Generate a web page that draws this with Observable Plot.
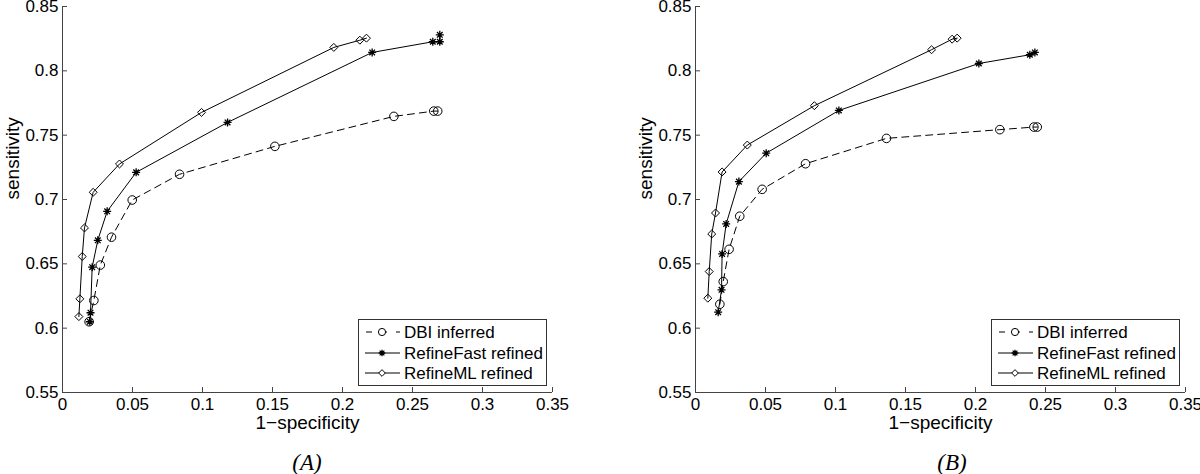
<!DOCTYPE html>
<html><head><meta charset="utf-8">
<script src="https://cdn.jsdelivr.net/npm/d3@7"></script>
<script src="https://cdn.jsdelivr.net/npm/@observablehq/plot@0.6"></script>
<style>
body{margin:0;background:#fff;}
#wrap{position:relative;width:1200px;height:474px;overflow:hidden;font-family:"Liberation Sans",Arial,sans-serif;background:#fff;}
.panel{position:absolute;top:0;width:600px;height:474px;}
.panel svg.plotsvg{position:absolute;left:0;top:0;}
.cap{position:absolute;top:449px;font-family:"Liberation Serif","Times New Roman",serif;font-style:italic;font-size:23px;line-height:28px;transform:translateX(-50%);color:#000;}
.legend{position:absolute;top:319px;}
</style></head><body><div id="wrap"></div>
<script>
// ---- axes ----
const xTicks = [0, 0.05, 0.1, 0.15, 0.2, 0.25, 0.3, 0.35];
const yTicks = [0.55, 0.6, 0.65, 0.7, 0.75, 0.8, 0.85];
const xLabel = "1\u2212specificity";
const yLabel = "sensitivity";
const seriesNames = ["DBI inferred", "RefineFast refined", "RefineML refined"];
const panelLabels = ["(A)", "(B)"];

// ---- panel A ----
const aDbiX  = [0.019, 0.0224, 0.027, 0.035, 0.0498, 0.0836, 0.1517, 0.2367, 0.2652, 0.268];
const aDbiY  = [0.605, 0.6215, 0.649, 0.6707, 0.6996, 0.7196, 0.7413, 0.7646, 0.7687, 0.7687];
const aFastX = [0.0195, 0.02, 0.0212, 0.0252, 0.0319, 0.0526, 0.1179, 0.2212, 0.2645, 0.2695, 0.2695];
const aFastY = [0.605, 0.612, 0.6474, 0.6683, 0.6908, 0.7211, 0.7599, 0.8143, 0.8226, 0.8226, 0.828];
const aMlX   = [0.0117, 0.0124, 0.0141, 0.0157, 0.0219, 0.0407, 0.0993, 0.1938, 0.2124, 0.2171];
const aMlY   = [0.609, 0.6228, 0.6557, 0.6779, 0.7056, 0.7276, 0.7677, 0.8182, 0.8238, 0.8254];

// ---- panel B ----
const bDbiX  = [0.0174, 0.0198, 0.024, 0.0316, 0.0476, 0.0786, 0.1364, 0.2174, 0.2417, 0.2441];
const bDbiY  = [0.6186, 0.6362, 0.6613, 0.687, 0.7079, 0.7278, 0.7475, 0.7543, 0.7563, 0.7563];
const bFastX = [0.0162, 0.0186, 0.019, 0.0219, 0.031, 0.0505, 0.1024, 0.2024, 0.2388, 0.2424];
const bFastY = [0.6124, 0.6298, 0.6577, 0.681, 0.7139, 0.736, 0.7692, 0.8057, 0.8125, 0.8143];
const bMlX   = [0.0088, 0.0098, 0.0116, 0.0143, 0.019, 0.037, 0.0849, 0.1686, 0.1833, 0.1869];
const bMlY   = [0.6233, 0.644, 0.6732, 0.6895, 0.7214, 0.7423, 0.7729, 0.8164, 0.8246, 0.8254];

// MATLAB-like '*' marker: 8 spokes
const star8 = {
  draw(context, size) {
    const r = Math.sqrt(size / Math.PI), d = r * Math.SQRT1_2;
    context.moveTo(-r, 0); context.lineTo(r, 0);
    context.moveTo(0, -r); context.lineTo(0, r);
    context.moveTo(-d, -d); context.lineTo(d, d);
    context.moveTo(-d, d); context.lineTo(d, -d);
  }
};
const styles = [
  {symbol: "circle", dash: "7,5", r: 4.3, sw: 1},
  {symbol: star8, dash: null, r: 4, sw: 1.3},
  {symbol: "diamond2", dash: null, r: 3.6, sw: 1}
];

function pts(xs, ys) { return xs.map((x, i) => ({x, y: ys[i]})); }

function makePanel(series, mLeft, mRight) {
  const marks = [
    Plot.ruleX([xTicks[0]], {stroke: "#444", strokeWidth: 1}),
    Plot.ruleY([yTicks[0]], {stroke: "#444", strokeWidth: 1}),
    Plot.axisX({ticks: xTicks, tickSize: -5, tickPadding: 10, tickFormat: d => String(d), label: null, stroke: "#444"}),
    Plot.axisY({ticks: yTicks, tickSize: -5, tickPadding: 9, tickFormat: d => String(d), label: null, stroke: "#444"}),
    Plot.text([xLabel], {frameAnchor: "bottom", dy: 36, fontSize: 19}),
    Plot.text([yLabel], {frameAnchor: "left", rotate: -90, dx: -50, fontSize: 19})
  ];
  series.forEach((s, i) => {
    const st = styles[i];
    marks.push(Plot.line(s, {x: "x", y: "y", stroke: "black", strokeWidth: 1, strokeDasharray: st.dash}));
    marks.push(Plot.dot(s, {x: "x", y: "y", symbol: st.symbol, r: st.r, stroke: "black", fill: "none", strokeWidth: st.sw}));
  });
  const svg = Plot.plot({
    width: 600, height: 440,
    marginLeft: mLeft, marginRight: mRight, marginTop: 6, marginBottom: 48,
    x: {domain: [xTicks[0], xTicks[xTicks.length - 1]]},
    y: {domain: [yTicks[0], yTicks[yTicks.length - 1]]},
    style: {fontSize: "17px", fontFamily: "'Liberation Sans', Arial, sans-serif", color: "black", background: "white", overflow: "visible"},
    marks
  });
  svg.classList.add("plotsvg");
  return svg;
}

function makeLegend() {
  const w = 189, h = 67;
  const svg = d3.create("svg").attr("width", w).attr("height", h).style("overflow", "visible");
  svg.append("rect").attr("x", 0.5).attr("y", 0.5).attr("width", w - 1).attr("height", h - 1)
    .attr("fill", "white").attr("stroke", "#333");
  const rowY = [13, 34, 54];
  seriesNames.forEach((name, i) => {
    const st = styles[i];
    const g = svg.append("g");
    g.append("line").attr("x1", 7).attr("x2", 42).attr("y1", rowY[i]).attr("y2", rowY[i])
      .attr("stroke", "black").attr("stroke-width", 1).attr("stroke-dasharray", i === 0 ? "6,9" : null)
      .attr("stroke-dashoffset", i === 0 ? -1 : null);
    const symType = i === 0 ? d3.symbolCircle : i === 1 ? star8 : d3.symbolDiamond2;
    const sym = d3.symbol().type(symType).size(Math.PI * st.r * st.r * 0.7);
    g.append("path").attr("d", sym()).attr("transform", `translate(24,${rowY[i]})`)
      .attr("fill", i === 1 ? "none" : "white").attr("stroke", "black").attr("stroke-width", st.sw);
    g.append("text").attr("x", 46).attr("y", rowY[i]).attr("dy", "0.35em")
      .attr("font-size", 17).attr("font-family", "'Liberation Sans', Arial, sans-serif").text(name);
  });
  return svg.node();
}

const wrap = document.getElementById("wrap");
const panels = [
  {series: [pts(aDbiX, aDbiY), pts(aFastX, aFastY), pts(aMlX, aMlY)], left: 0, mL: 62, mR: 48, capX: 307, legX: 358},
  {series: [pts(bDbiX, bDbiY), pts(bFastX, bFastY), pts(bMlX, bMlY)], left: 600, mL: 95, mR: 15, capX: 352, legX: 391}
];
panels.forEach((p, k) => {
  const div = document.createElement("div");
  div.className = "panel";
  div.style.left = p.left + "px";
  div.appendChild(makePanel(p.series, p.mL, p.mR));
  const leg = document.createElement("div");
  leg.className = "legend";
  leg.style.left = p.legX + "px";
  leg.appendChild(makeLegend());
  div.appendChild(leg);
  const cap = document.createElement("div");
  cap.className = "cap";
  cap.style.left = p.capX + "px";
  cap.textContent = panelLabels[k];
  div.appendChild(cap);
  wrap.appendChild(div);
});
</script></body></html>
